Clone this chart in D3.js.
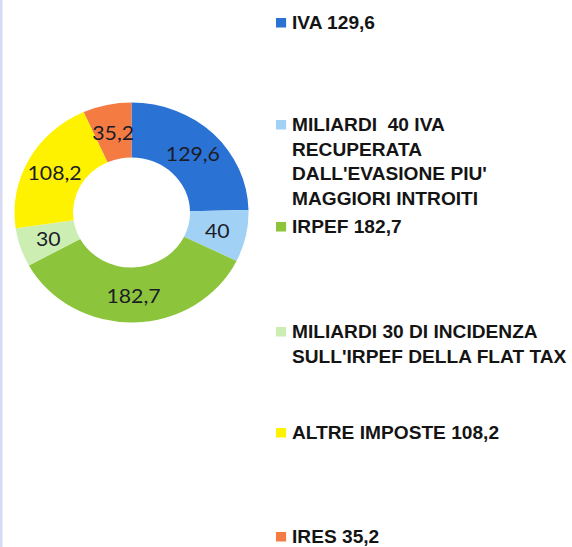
<!DOCTYPE html>
<html>
<head>
<meta charset="utf-8">
<script src="https://cdn.jsdelivr.net/npm/d3@7"></script>
<style>
  html, body { margin: 0; padding: 0; background: #fff; overflow: hidden; }
  #chart { width: 572px; height: 547px; }
</style>
</head>
<body>
<div id="chart"></div>
<script>
// slices, clockwise from 12 o'clock
const categories = ["IVA", "IVA recuperata", "IRPEF", "Flat tax", "Altre imposte", "IRES"]
const values = [129.6, 40, 182.7, 30, 108.2, 35.2]
const sliceLabels = ["129,6", "40", "182,7", "30", "108,2", "35,2"]
const colors = ["#2a72d4", "#a2d1f6", "#8cc43c", "#cdeeb3", "#fff200", "#f47b42"]

// legend text, one entry per slice (lines as wrapped in the picture)
const legendLines = [
    ["IVA 129,6"],
    ["MILIARDI  40 IVA", "RECUPERATA", "DALL'EVASIONE PIU'", "MAGGIORI INTROITI"],
    ["IRPEF 182,7"],
    ["MILIARDI 30 DI INCIDENZA", "SULL'IRPEF DELLA FLAT TAX"],
    ["ALTRE IMPOSTE 108,2"],
    ["IRES 35,2"]
]

const W = 572, H = 547
const sx = 1.064 // the picture is a little wider than tall

const svg = d3.select("#chart")
    .append("svg")
    .attr("width", W)
    .attr("height", H)

svg.append("rect").attr("width", W).attr("height", H).attr("fill", "#fff")
// faint border on the left edge
svg.append("rect").attr("x", 0).attr("y", 0).attr("width", 2.5).attr("height", H).attr("fill", "#d6daf2")

const root = svg.append("g").attr("transform", `scale(${sx},1)`)

/* donut */
const cx = 131.5 / sx, cy = 212.5
const outer = 110, inner = 55

const pie = d3.pie().sort(null).value(d => d)
const arc = d3.arc().innerRadius(inner).outerRadius(outer)
const labelArc = d3.arc().innerRadius((inner + outer) / 2).outerRadius((inner + outer) / 2)

const donut = root.append("g").attr("transform", `translate(${cx}, ${cy})`)
const arcs = pie(values)

donut.selectAll("path")
    .data(arcs)
    .enter()
    .append("path")
    .attr("d", arc)
    .attr("fill", (d, i) => colors[i])

donut.selectAll("text")
    .data(arcs)
    .enter()
    .append("text")
    .attr("x", d => labelArc.centroid(d)[0])
    .attr("y", d => labelArc.centroid(d)[1])
    .attr("text-anchor", "middle")
    .attr("dominant-baseline", "central")
    .attr("font-family", "Lato, 'Open Sans', sans-serif")
    .attr("font-size", 20)
    .attr("fill", "#1c1c28")
    .text((d, i) => sliceLabels[i])

/* legend */
const legendX = 276 / sx, textX = 292 / sx
const fs = 18
const lineGap = 24.5
// centre of the first line of each entry (slots about 102px apart)
const legendY = [23, 125, 227, 332, 433, 537]

const legend = root.append("g")
legendLines.forEach((lines, i) => {
    const g = legend.append("g")
    g.append("rect")
        .attr("x", legendX)
        .attr("y", legendY[i] - 5)
        .attr("width", 9.5)
        .attr("height", 9.5)
        .attr("fill", colors[i])
    lines.forEach((t, j) => {
        g.append("text")
            .attr("x", textX)
            .attr("y", legendY[i] + j * lineGap + fs * 0.716 / 2)
            .attr("font-family", "'Liberation Sans', Arial, sans-serif")
            .attr("font-weight", "bold")
            .attr("font-size", fs)
            .attr("fill", "#141414")
            .attr("xml:space", "preserve")
            .style("white-space", "pre")
            .text(t)
    })
})
</script>
</body>
</html>
